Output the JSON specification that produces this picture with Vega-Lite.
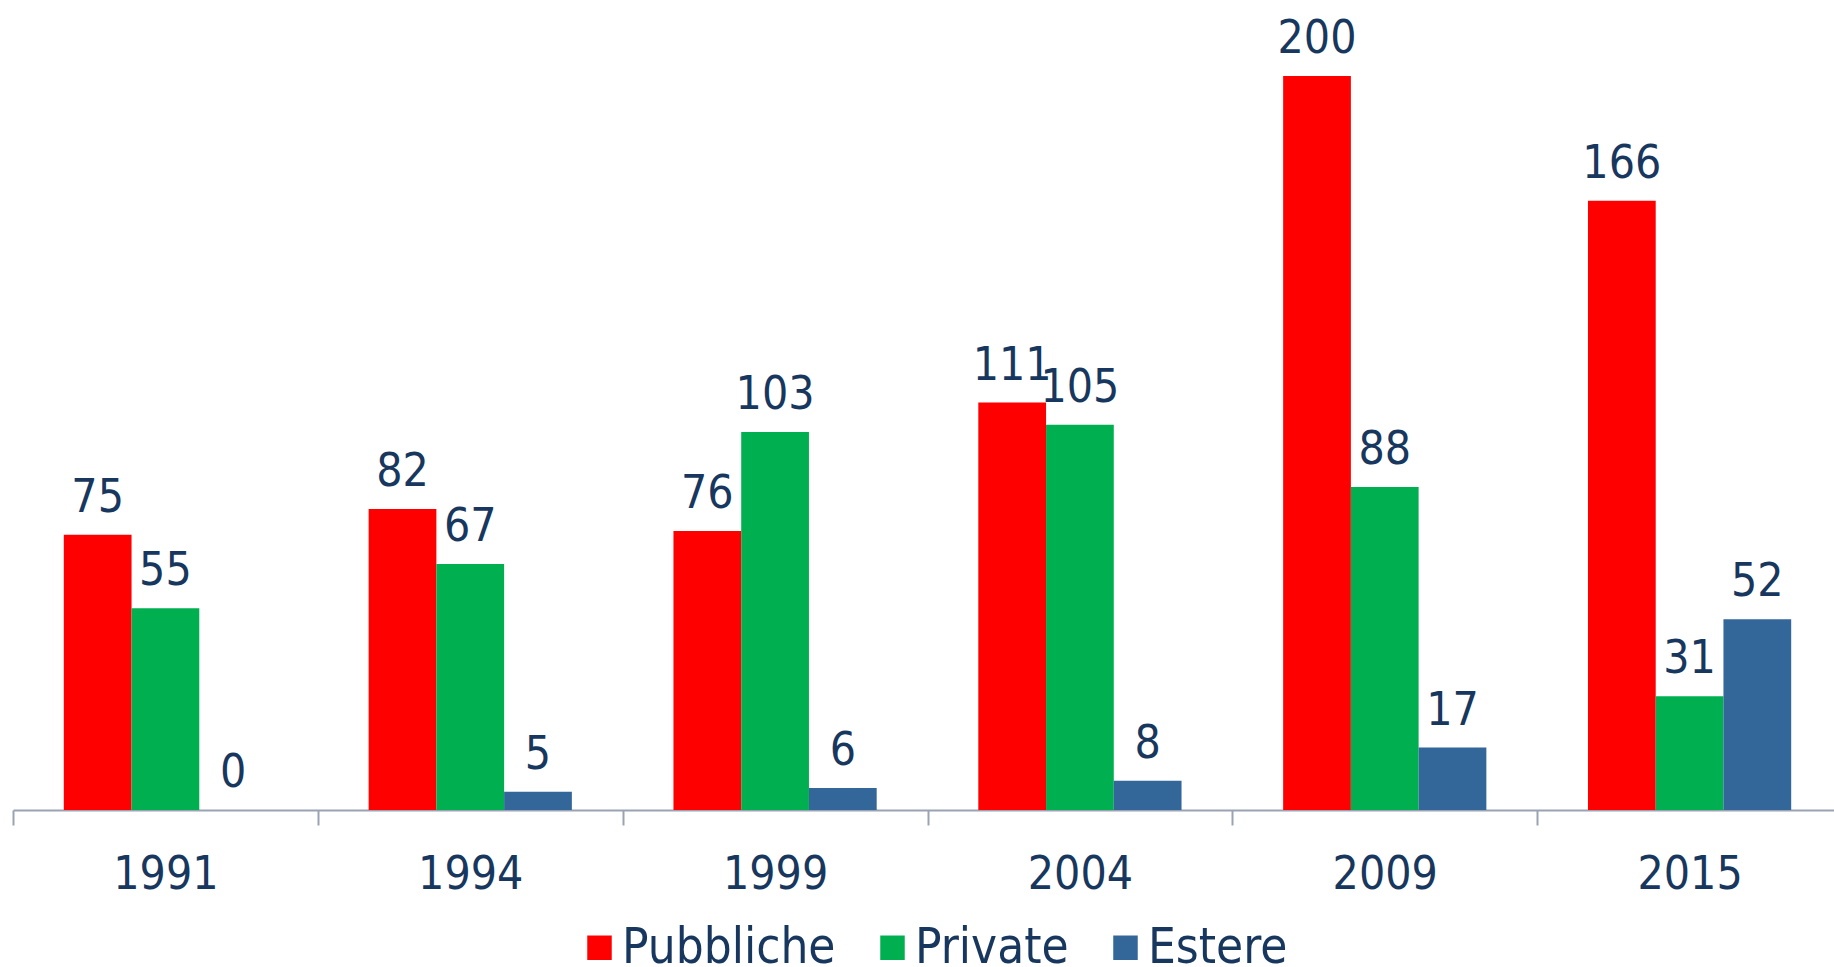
{
  "$schema": "https://vega.github.io/schema/vega-lite/v6.json",
  "autosize": "none",
  "width": 1829,
  "height": 810,
  "padding": {"left": 13, "top": 0, "right": 0, "bottom": 157},
  "background": "white",
  "config": {"view": {"stroke": null}, "font": "DejaVu Sans Condensed"},
  "data": {"values": [
    {"anno": "1991", "tipo": "Pubbliche", "valore": 75},
    {"anno": "1991", "tipo": "Private", "valore": 55},
    {"anno": "1991", "tipo": "Estere", "valore": 0},
    {"anno": "1994", "tipo": "Pubbliche", "valore": 82},
    {"anno": "1994", "tipo": "Private", "valore": 67},
    {"anno": "1994", "tipo": "Estere", "valore": 5},
    {"anno": "1999", "tipo": "Pubbliche", "valore": 76},
    {"anno": "1999", "tipo": "Private", "valore": 103},
    {"anno": "1999", "tipo": "Estere", "valore": 6},
    {"anno": "2004", "tipo": "Pubbliche", "valore": 111},
    {"anno": "2004", "tipo": "Private", "valore": 105},
    {"anno": "2004", "tipo": "Estere", "valore": 8},
    {"anno": "2009", "tipo": "Pubbliche", "valore": 200},
    {"anno": "2009", "tipo": "Private", "valore": 88},
    {"anno": "2009", "tipo": "Estere", "valore": 17},
    {"anno": "2015", "tipo": "Pubbliche", "valore": 166},
    {"anno": "2015", "tipo": "Private", "valore": 31},
    {"anno": "2015", "tipo": "Estere", "valore": 52}
  ]},
  "encoding": {
    "x": {
      "field": "anno", "type": "nominal",
      "scale": {"paddingInner": 0, "paddingOuter": 0},
      "axis": {
        "title": null, "labelAngle": 0, "tickBand": "extent",
        "domainColor": "#9AA3B3", "domainWidth": 2, "tickColor": "#9AA3B3", "tickWidth": 2, "tickSize": 15,
        "labelFontSize": 46, "labelColor": "#17375E", "labelPadding": 27, "labelFont": "DejaVu Sans Condensed"
      }
    },
    "xOffset": {
      "field": "tipo", "type": "nominal",
      "sort": ["Pubbliche", "Private", "Estere"],
      "scale": {"paddingInner": 0, "paddingOuter": 0.75}
    },
    "y": {
      "field": "valore", "type": "quantitative",
      "scale": {"domain": [0, 220.7], "nice": false},
      "axis": null
    }
  },
  "layer": [
    {
      "mark": {"type": "bar"},
      "encoding": {
        "color": {
          "field": "tipo", "type": "nominal",
          "sort": ["Pubbliche", "Private", "Estere"],
          "scale": {"domain": ["Pubbliche", "Private", "Estere"], "range": ["#FF0000", "#00B050", "#336699"]},
          "legend": {
            "title": null, "orient": "none", "direction": "horizontal",
            "legendX": 562, "legendY": 923,
            "symbolType": "square", "symbolSize": 600, "symbolStrokeWidth": 0,
            "labelFontSize": 49, "labelColor": "#17375E", "labelFont": "DejaVu Sans Condensed",
            "labelOffset": -2, "columnPadding": 32, "labelLimit": 0
          }
        }
      }
    },
    {
      "mark": {"type": "text", "baseline": "alphabetic", "dy": -23, "fontSize": 46, "color": "#17375E", "font": "DejaVu Sans Condensed"},
      "encoding": {"text": {"field": "valore", "type": "quantitative"}}
    }
  ]
}
